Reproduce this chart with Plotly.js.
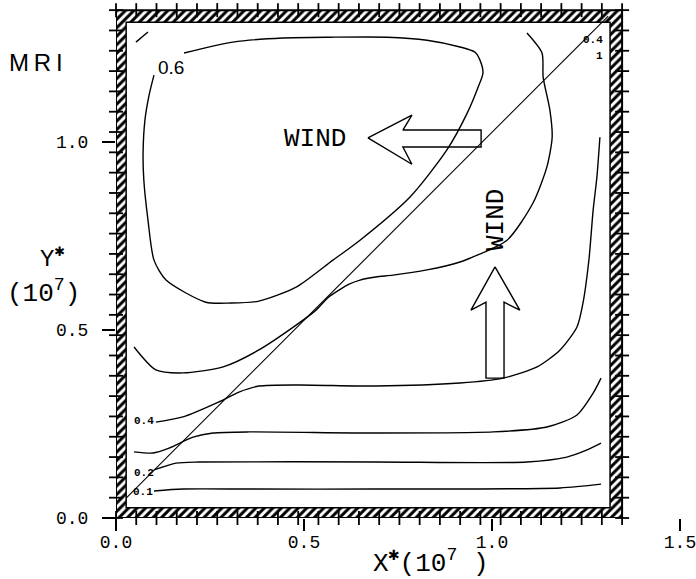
<!DOCTYPE html>
<html>
<head>
<meta charset="utf-8">
<script src="https://cdn.plot.ly/plotly-3.0.1.min.js"></script>
<style>html,body{margin:0;padding:0;background:#fff;}#chart{width:696px;height:579px;}</style>
</head>
<body>
<div id="chart"></div>
<script>
// ---- Data (X*, Y* in units of 10^7) ----
const xTickVals = [0.0, 0.5, 1.0, 1.5];
const xTickText = ["0.0", "0.5", "1.0", "1.5"];
const yTickVals = [0.0, 0.5, 1.0];
const yTickText = ["0.0", "0.5", "1.0"];

// contour 0.6 (closed gyre loop)
const c06X = [0.181,0.311,0.444,0.569,0.721,0.827,0.915,0.955,0.968,0.976,0.963,0.934,0.880,0.782,0.649,0.577,0.479,0.380,0.306,0.239,0.133,0.101,0.085,0.074,0.072,0.077,0.088,0.101];
const c06Y = [1.237,1.266,1.277,1.279,1.279,1.271,1.253,1.239,1.218,1.184,1.146,1.077,0.979,0.854,0.739,0.686,0.614,0.577,0.572,0.574,0.633,0.686,0.793,0.899,0.971,1.059,1.125,1.178];
// small segment near NW corner
const cDashX = [0.053, 0.085];
const cDashY = [1.266, 1.293];
// contour 0.5
const c05X = [1.093,1.133,1.136,1.154,1.160,1.146,1.109,1.040,0.941,0.915,0.827,0.737,0.691,0.649,0.620,0.566,0.532,0.479,0.380,0.285,0.178,0.106,0.048];
const c05Y = [1.290,1.237,1.173,1.085,1.013,0.934,0.838,0.739,0.691,0.681,0.660,0.646,0.641,0.633,0.622,0.588,0.553,0.513,0.447,0.402,0.386,0.394,0.455];
// contour 0.4
const c04X = [0.106,0.178,0.274,0.327,0.380,0.487,0.691,0.915,1.029,1.120,1.181,1.226,1.242,1.258,1.269,1.279,1.287];
const c04Y = [0.255,0.269,0.309,0.335,0.351,0.354,0.351,0.359,0.372,0.402,0.447,0.508,0.572,0.689,0.819,0.907,1.013];
// contour 0.3
const c03X = [0.048,0.098,0.141,0.205,0.258,0.354,0.691,1.003,1.146,1.226,1.269,1.290];
const c03Y = [0.176,0.173,0.186,0.215,0.226,0.229,0.226,0.229,0.242,0.274,0.332,0.372];
// contour 0.2
const c02X = [0.101,0.160,0.221,0.691,1.093,1.199,1.253,1.290];
const c02Y = [0.128,0.146,0.149,0.149,0.149,0.162,0.181,0.199];
// contour 0.1
const c01X = [0.101,0.178,0.354,0.691,1.181,1.290];
const c01Y = [0.072,0.077,0.077,0.077,0.080,0.090];
// diagonal section line
const diagX = [0.027, 1.309];
const diagY = [0.053, 1.335];

// basin walls
const outerX = [0, 1.346], outerY = [0, 1.351];
const innerX = [0.027, 1.314], innerY = [0.027, 1.319];

// wind arrows (outlines)
const arrowLeftX = [0.670,0.787,0.763,0.971,0.971,0.763,0.787,0.670];
const arrowLeftY = [1.011,1.072,1.032,1.032,0.987,0.987,0.941,1.011];
const arrowUpX = [1.008,0.944,0.984,0.984,1.032,1.032,1.074,1.008];
const arrowUpY = [0.668,0.553,0.574,0.372,0.372,0.574,0.553,0.668];

// contour labels
const labelText = ["0.6", "0.4", "0.2", "0.1", "0.4", "1"];
const labelX = [0.146, 0.074, 0.074, 0.072, 1.269, 1.287];
const labelY = [1.199, 0.258, 0.120, 0.069, 1.271, 1.229];

// ---- Build traces ----
const lineStyle = {color: "#000", width: 1.4, shape: "spline", smoothing: 0.7};
function curve(x, y) {
  return {x: x, y: y, mode: "lines", line: lineStyle, hoverinfo: "skip", showlegend: false, cliponaxis: false};
}

// hatched wall band
const bx = [], by = [];
function band(x0, x1, y0, y1) { bx.push(x0, x1, x1, x0, x0, null); by.push(y0, y0, y1, y1, y0, null); }
band(outerX[0], outerX[1], outerY[0], innerY[0]);
band(outerX[0], outerX[1], innerY[1], outerY[1]);
band(outerX[0], innerX[0], innerY[0], innerY[1]);
band(innerX[1], outerX[1], innerY[0], innerY[1]);

const traces = [
  {x: bx, y: by, mode: "lines", fill: "toself", line: {width: 0, color: "rgba(0,0,0,0)"},
   fillcolor: "#fff",
   fillpattern: {shape: "/", size: 6, solidity: 0.5, fgcolor: "#000", bgcolor: "#fff"},
   hoverinfo: "skip", showlegend: false, cliponaxis: false},
  curve(c06X, c06Y),
  {x: cDashX, y: cDashY, mode: "lines", line: {color: "#000", width: 1.4}, hoverinfo: "skip", showlegend: false},
  curve(c05X, c05Y),
  curve(c04X, c04Y),
  curve(c03X, c03Y),
  curve(c02X, c02Y),
  curve(c01X, c01Y),
  {x: diagX, y: diagY, mode: "lines", line: {color: "#000", width: 1.1}, hoverinfo: "skip", showlegend: false, cliponaxis: false},
  {x: arrowLeftX, y: arrowLeftY, mode: "lines", line: {color: "#000", width: 1.4}, hoverinfo: "skip", showlegend: false},
  {x: arrowUpX, y: arrowUpY, mode: "lines", line: {color: "#000", width: 1.4}, hoverinfo: "skip", showlegend: false}
];

// wall tick crosses
const step = (outerX[1] - outerX[0]) / 25;
const hx = [], hy = [], vx = [], vy = [];
for (let i = 0; i <= 25; i++) {
  const x = outerX[0] + i * step;
  hx.push(x, x); hy.push(outerY[0], outerY[1]);
  const y = outerY[0] + i * (outerY[1] - outerY[0]) / 25;
  vx.push(outerX[0], outerX[1]); vy.push(y, y);
}
traces.push({x: hx, y: hy, mode: "markers", marker: {symbol: "line-ns-open", size: 10, color: "#000", line: {width: 1.8, color: "#000"}}, hoverinfo: "skip", showlegend: false, cliponaxis: false});
traces.push({x: vx, y: vy, mode: "markers", marker: {symbol: "line-ew-open", size: 10, color: "#000", line: {width: 1.8, color: "#000"}}, hoverinfo: "skip", showlegend: false, cliponaxis: false});

// ---- Layout ----
const mono = "Liberation Mono, DejaVu Sans Mono, monospace";
const annotations = [];
function ann(o) { annotations.push(Object.assign({showarrow: false, xanchor: "center", yanchor: "middle"}, o)); }
labelText.forEach((t, i) => {
  const big = (i === 0);
  ann({x: labelX[i], y: labelY[i], xref: "x", yref: "y", text: big ? t : "<b>" + t + "</b>",
    font: big ? {family: "Liberation Sans, Arial", size: 19, color: "#000"} : {family: mono, size: 11, color: "#000"}});
});
ann({x: 0.529, y: 1.008, xref: "x", yref: "y", text: "WIND", font: {family: mono, size: 26, color: "#000"}});
ann({x: 1.011, y: 0.793, xref: "x", yref: "y", text: "WIND", textangle: -90, font: {family: mono, size: 26, color: "#000"}});
ann({x: -0.1418, y: 0.8835, xref: "paper", yref: "paper", text: "M\u2009R\u2009I", font: {family: "Liberation Sans, Arial", size: 24, color: "#000"}});
ann({x: -0.1126, y: 0.505, xref: "paper", yref: "paper", text: "Y<sup>✱</sup>", font: {family: mono, size: 24, color: "#000"}});
ann({x: -0.1285, y: 0.438, xref: "paper", yref: "paper", text: "(10<sup>7</sup>)", font: {family: mono, size: 26, color: "#000"}});
ann({x: 0.5585, y: -0.085, xref: "paper", yref: "paper", text: "X<sup>✱</sup>(10<sup>7</sup> )", font: {family: mono, size: 26, color: "#000"}});

const shapes = [
  {type: "rect", xref: "x", yref: "y", x0: outerX[0], x1: outerX[1], y0: outerY[0], y1: outerY[1], line: {color: "#000", width: 2}},
  {type: "rect", xref: "x", yref: "y", x0: innerX[0], x1: innerX[1], y0: innerY[0], y1: innerY[1], line: {color: "#000", width: 1.5}}
];

const layout = {
  width: 696, height: 579,
  margin: {l: 116, r: 16, t: 3, b: 61},
  paper_bgcolor: "#fff", plot_bgcolor: "#fff",
  showlegend: false,
  xaxis: {range: [0, 1.5], showgrid: false, zeroline: false, showline: false,
    tickmode: "array", tickvals: xTickVals, ticktext: xTickText,
    ticks: "outside", ticklen: 12, tickwidth: 1.5, tickcolor: "#000", ticklabelstandoff: -5,
    ticklabeloverflow: "allow",
    tickfont: {family: mono, size: 18, color: "#000"}},
  yaxis: {range: [0, 1.37], showgrid: false, zeroline: false, showline: false,
    tickmode: "array", tickvals: yTickVals, ticktext: yTickText,
    ticks: "outside", ticklen: 13, tickwidth: 1.5, tickcolor: "#000", ticklabelstandoff: 10,
    tickfont: {family: mono, size: 18, color: "#000"}},
  annotations: annotations,
  shapes: shapes
};

Plotly.newPlot("chart", traces, layout, {displayModeBar: false, staticPlot: true});
</script>
</body>
</html>
